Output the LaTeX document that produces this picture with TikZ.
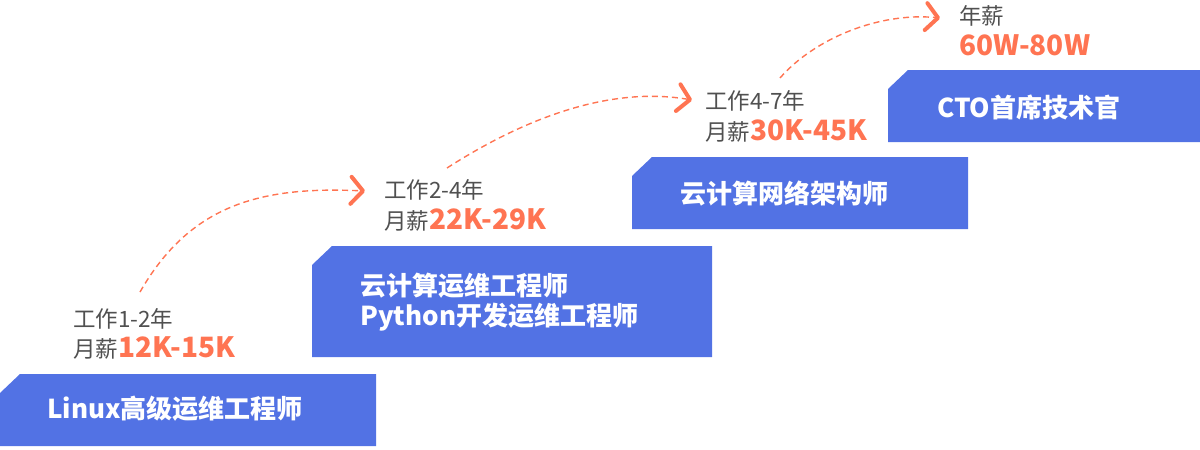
\documentclass[tikz,border=0pt]{standalone}
\usepackage{fontspec}
\setmainfont{Noto Sans CJK SC}
\usetikzlibrary{arrows.meta,calc}
\definecolor{boxblue}{RGB}{82,114,228}
\definecolor{accent}{RGB}{255,116,82}
\definecolor{labelgray}{RGB}{80,80,80}
\tikzset{
  boxarea/.style={inner sep=0pt, outer sep=0pt, anchor=north west},
  boxfill/.style={fill=boxblue},
  boxtext/.style={inner sep=0pt, anchor=base west, text=white, font=\fontsize{26pt}{30pt}\selectfont\bfseries},
  graytext/.style={inner sep=0pt, anchor=base west, text=labelgray, font=\fontsize{22.5pt}{26pt}\selectfont},
  flow/.style={draw=accent, line width=1.4pt, dash pattern=on 6pt off 4pt,
    -{Straight Barb[length=12pt,width=27pt,line width=4pt,round]}}
}
\newcommand{\orangesal}[1]{{\color{accent}\fontsize{28pt}{32pt}\selectfont\bfseries #1}}
\begin{document}
\begin{tikzpicture}[x=1pt,y=-1pt]
\useasboundingbox (0,0) rectangle (1200,450);
% boxes
\node[boxarea, minimum width=376pt, minimum height=72pt] (b1) at (0,374) {};
\node[boxarea, minimum width=400pt, minimum height=111pt] (b2) at (312,246) {};
\node[boxarea, minimum width=336pt, minimum height=72pt] (b3) at (632,157) {};
\node[boxarea, minimum width=312pt, minimum height=72pt] (b4) at (888,70) {};
\foreach \b in {b1,b2,b3,b4}{
  \fill[boxfill] (\b.south west) -- ([yshift=-19pt]\b.north west) -- ([xshift=20pt]\b.north west) -- (\b.north east) -- (\b.south east) -- cycle;
}
% box texts
\node[boxtext] (t1) at (47,418) {Linux高级运维工程师};
\node[boxtext] (t2a) at (360,295) {云计算运维工程师};
\node[boxtext] (t2b) at (360,325) {Python开发运维工程师};
\node[boxtext] (t3) at (680,203) {云计算网络架构师};
\node[boxtext] (t4) at (937,117) {CTO首席技术官};
% labels
\node[graytext] (g1a) at (73,327) {工作1-2年};
\node[graytext] (g1b) at (73,357) {月薪\orangesal{12K-15K}};
\node[graytext] (g2a) at (384,198) {工作2-4年};
\node[graytext] (g2b) at (384,229) {月薪\orangesal{22K-29K}};
\node[graytext] (g3a) at (705,109) {工作4-7年};
\node[graytext] (g3b) at (705,140) {月薪\orangesal{30K-45K}};
\node[graytext] (g4a) at (959,24) {年薪};
\node[graytext] (g4b) at (959,55) {\orangesal{60W-80W}};
% arrows
\coordinate (s1) at (140,292); \coordinate (e1) at (365,191);
\coordinate (s2) at (447,168); \coordinate (e2) at (692,100);
\coordinate (s3) at (780,78);  \coordinate (e3) at (940,18);
\draw[flow] (s1) .. controls (190,205) and (260,186) .. (e1);
\draw[flow] (s2) .. controls (525,118) and (610,86) .. (e2);
\draw[flow] (s3) .. controls (815,38) and (880,12) .. (e3);
\end{tikzpicture}
\end{document}
